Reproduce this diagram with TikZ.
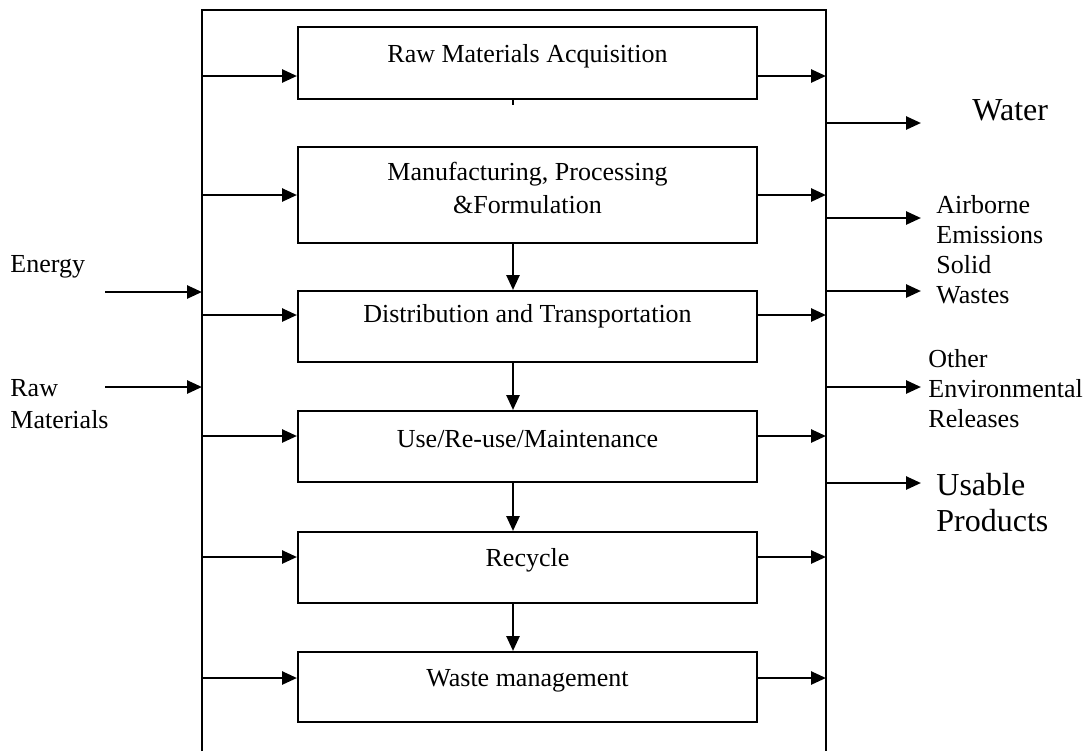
\documentclass[tikz,border=0pt]{standalone}
\usepackage{fontspec}
\setmainfont{Liberation Serif}
\usetikzlibrary{arrows.meta}
\begin{document}
\begin{tikzpicture}[x=0.5pt,y=-0.5pt,
  stage/.style={draw,line width=1pt,minimum width=229.5pt,inner sep=0pt},
  stagetext/.style={font=\fontsize{13}{16.5}\selectfont,align=center,inner sep=0pt},
  flow/.style={line width=1.3pt,-{Triangle[length=7.5pt,width=6.5pt]}},
  side/.style={font=\fontsize{13}{15}\selectfont,align=left,anchor=west,inner sep=0pt},
  big/.style={font=\fontsize{16}{18}\selectfont,align=left,anchor=west,inner sep=0pt}]
\useasboundingbox (0,0) rectangle (1092,751);

% outer system boundary (open at the bottom)
\coordinate (ftl) at (202,10);
\coordinate (ftr) at (826,10);
\coordinate (fbl) at (202,751);
\coordinate (fbr) at (826,751);
\draw[line width=1pt] (fbl) -- (ftl) -- (ftr) -- (fbr);

% life-cycle stages
\node[stage,minimum height=36pt]   (b1) at (527.5,63)  {};
\node[stage,minimum height=48pt]   (b2) at (527.5,195) {};
\node[stage,minimum height=35.5pt] (b3) at (527.5,326.5) {};
\node[stage,minimum height=35.5pt] (b4) at (527.5,446.5) {};
\node[stage,minimum height=35.5pt] (b5) at (527.5,567.5) {};
\node[stage,minimum height=35pt]   (b6) at (527.5,687) {};

\node[stagetext] (t1) at ([yshift=3.5pt]b1.center) {Raw Materials Acquisition};
\node[stagetext] (t2) at ([yshift=3.5pt]b2.center) {Manufacturing, Processing\\\&Formulation};
\node[stagetext] (t3) at ([yshift=5pt]b3.center) {Distribution and Transportation};
\node[stagetext] (t4) at ([yshift=3.5pt]b4.center) {Use/Re-use/Maintenance};
\node[stagetext] (t5) at ([yshift=3.5pt]b5.center) {Recycle};
\node[stagetext] (t6) at ([yshift=3pt]b6.center) {Waste management};

% inputs into and outputs from each stage
\foreach \b/\y in {b1/76,b2/195,b3/315,b4/436,b5/557,b6/678}{
  \draw[flow] (ftl |- 0,\y) -- (\b.west |- 0,\y);
  \draw[flow] (\b.east |- 0,\y) -- (ftr |- 0,\y);
}

% flow between stages
\draw[line width=0.8pt] ([xshift=-7.25pt]b1.south) -- ++(0,5);
\draw[flow] ([xshift=-7.25pt]b2.south) -- ([xshift=-7.25pt]b3.north);
\draw[flow] ([xshift=-7.25pt]b3.south) -- ([xshift=-7.25pt]b4.north);
\draw[flow] ([xshift=-7.25pt]b4.south) -- ([xshift=-7.25pt]b5.north);
\draw[flow] ([xshift=-7.25pt]b5.south) -- ([xshift=-7.25pt]b6.north);

% system inputs
\coordinate (ein) at (105,292);
\coordinate (rin) at (105,387);
\draw[flow] (ein) -- (ftl |- ein);
\draw[flow] (rin) -- (ftl |- rin);
\node[side] (energy) at (10,267) {Energy};
\node[side,font=\fontsize{13}{16}\selectfont] (rawmat) at (10,404) {Raw\\Materials};

% system outputs
\coordinate (o1) at (921,123);
\coordinate (o2) at (921,218);
\coordinate (o3) at (921,291);
\coordinate (o4) at (921,387);
\coordinate (o5) at (921,483);
\foreach \o in {o1,o2,o3,o4,o5}{
  \draw[flow] (ftr |- \o) -- (\o);
}
\node[big]  (water)  at (972,110) {Water};
\node[side] (air)    at (936,235) {Airborne\\Emissions\\Solid};
\node[side] (wastes) at (936,295) {Wastes};
\node[side] (other)  at (928,389) {Other\\Environmental\\Releases};
\node[big,font=\fontsize{16}{18}\selectfont] (usable) at (936,503) {Usable\\Products};
\end{tikzpicture}
\end{document}
